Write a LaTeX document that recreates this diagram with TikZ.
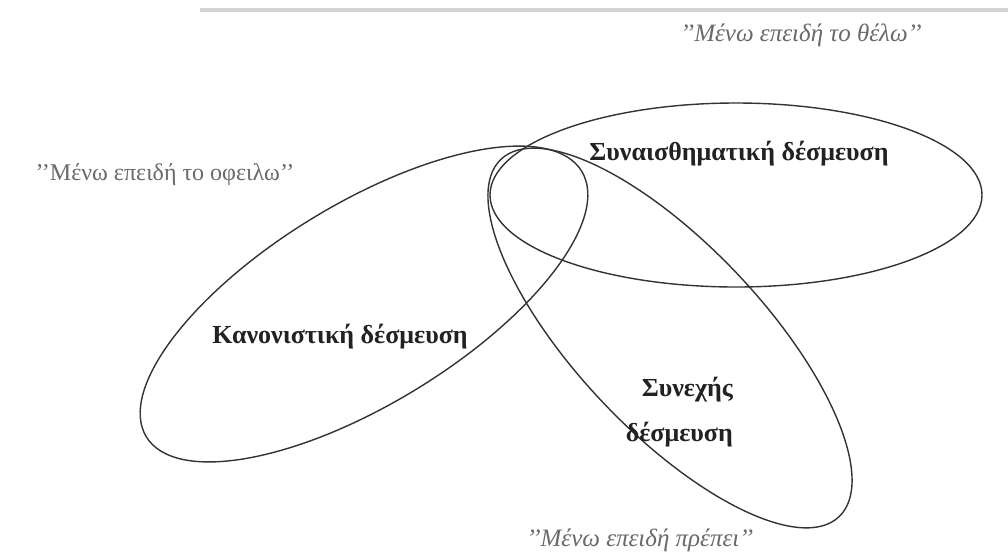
\documentclass[tikz,border=0pt]{standalone}
\usepackage{fontspec}
\setmainfont{Liberation Serif}
\definecolor{inkc}{HTML}{333333}
\definecolor{labc}{HTML}{222222}
\definecolor{quotec}{HTML}{6A6A6A}
\definecolor{barc}{HTML}{D4D4D4}
\begin{document}
\begin{tikzpicture}[x=1pt,y=-1pt,
  ring/.style={draw=inkc,line width=1.4pt},
  lab/.style={text=labc,font=\fontsize{26}{45}\selectfont\bfseries,inner sep=0pt},
  quote/.style={text=quotec,font=\fontsize{24}{28}\selectfont,inner sep=0pt},
  iquote/.style={quote,font=\fontsize{25}{28}\selectfont\itshape}]
\path[fill=white] (0,0) rectangle (1008,558);
\useasboundingbox (0,0) rectangle (1008,558);
\draw[barc,line width=3.5pt] (200,10) -- (1008,10);
% ellipses
\draw[ring] (736,195) ellipse [x radius=246pt, y radius=92pt];
\draw[ring,rotate around={31.4:(364,304)}] (364,304) ellipse [x radius=255pt, y radius=100pt];
\draw[ring,rotate around={-46.6:(670,338)}] (670,338) ellipse [x radius=246pt, y radius=93pt];
% labels
\node[lab] (aff) at (739,154) {Συναισθηματική δέσμευση};
\node[lab] (nor) at (340,337) {Κανονιστική δέσμευση};
\node[lab,align=right,anchor=east] (con) at (733,412) {Συνεχής\\δέσμευση};
\node[iquote] (q1) at (801,35) {’’Μένω επειδή το θέλω’’};
\node[quote] (q2) at (165,175) {’’Μένω επειδή το οφειλω’’};
\node[iquote] (q3) at (640,540) {’’Μένω επειδή πρέπει’’};
\end{tikzpicture}
\end{document}
